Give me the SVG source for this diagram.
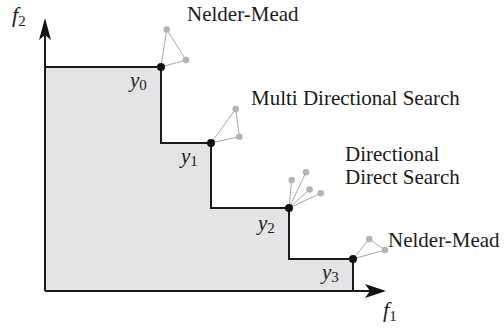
<svg xmlns="http://www.w3.org/2000/svg" width="504" height="328" viewBox="0 0 504 328">
<style>
text{fill:#1a1a1a}
.lbl{font-size:21px}
.math{font-style:italic;font-size:21px}
.sub{font-style:normal;font-size:15px}
.stair{fill:none;stroke:#1a1a1a;stroke-width:2}
.axis{fill:none;stroke:#1a1a1a;stroke-width:2}
.probe{fill:none;stroke:#a8a8a8;stroke-width:1}
.pt{fill:#b4b4b4}
.dot{fill:#111}
</style>
<rect width="504" height="328" fill="#fff"/>
<polygon points="45,67 161,67 161,143 211,143 211,208 289,208 289,259 353,259 353,291 45,291" fill="#e4e4e6"/>
<g id="connectors">
<polyline class="stair" points="45,67 161,67 161,143 211,143 211,208 289,208 289,259 353,259 353,291"/>
<line class="axis" x1="45" y1="291" x2="45" y2="34"/>
<line class="axis" x1="45" y1="291" x2="372" y2="291"/>
<path d="M45,18 L51,40 L45,35 L39,40 Z" fill="#111"/>
<path d="M386,291 L365,298 L370,291 L365,284 Z" fill="#111"/>
<polygon class="probe" points="161,67 166.7,29.5 186,60"/>
<polygon class="probe" points="211,143 235.7,109 239.3,136.7"/>
<line class="probe" x1="289" y1="208" x2="291.7" y2="180"/>
<line class="probe" x1="289" y1="208" x2="306" y2="172.3"/>
<line class="probe" x1="289" y1="208" x2="309.5" y2="189.5"/>
<line class="probe" x1="289" y1="208" x2="320.7" y2="193.3"/>
<polygon class="probe" points="353,259 369.3,239 385,250"/>
</g>
<g id="probes">
<circle class="pt" cx="166.7" cy="29.5" r="3.3"/>
<circle class="pt" cx="186" cy="60" r="3.3"/>
<circle class="pt" cx="235.7" cy="109" r="3.3"/>
<circle class="pt" cx="239.3" cy="136.7" r="3.3"/>
<circle class="pt" cx="291.7" cy="180" r="3.3"/>
<circle class="pt" cx="306" cy="172.3" r="3.3"/>
<circle class="pt" cx="309.5" cy="189.5" r="3.3"/>
<circle class="pt" cx="320.7" cy="193.3" r="3.3"/>
<circle class="pt" cx="369.3" cy="239" r="3.3"/>
<circle class="pt" cx="385" cy="250" r="3.3"/>
</g>
<g font-family="Liberation Serif, Times New Roman, serif">
<g id="y0"><circle class="dot" cx="161" cy="67" r="4"/><text class="math" x="130" y="87">y<tspan class="sub" dy="3">0</tspan></text></g>
<g id="y1"><circle class="dot" cx="211" cy="143" r="4"/><text class="math" x="181" y="163">y<tspan class="sub" dy="3">1</tspan></text></g>
<g id="y2"><circle class="dot" cx="289" cy="208" r="4"/><text class="math" x="258" y="230">y<tspan class="sub" dy="3">2</tspan></text></g>
<g id="y3"><circle class="dot" cx="353" cy="259" r="4"/><text class="math" x="322" y="279">y<tspan class="sub" dy="3">3</tspan></text></g>
<g id="f2"><text class="math" x="12" y="22" style="font-size:22px">f<tspan class="sub" dy="4">2</tspan></text></g>
<g id="f1"><text class="math" x="383" y="317" style="font-size:22px">f<tspan class="sub" dy="4">1</tspan></text></g>
<g id="nm-top"><text class="lbl" x="187" y="21">Nelder-Mead</text></g>
<g id="mds"><text class="lbl" x="251" y="105">Multi Directional Search</text></g>
<g id="dds"><text class="lbl" x="345" y="161">Directional</text><text class="lbl" x="345" y="184">Direct Search</text></g>
<g id="nm-bottom"><text class="lbl" x="388" y="247">Nelder-Mead</text></g>
</g>
</svg>
